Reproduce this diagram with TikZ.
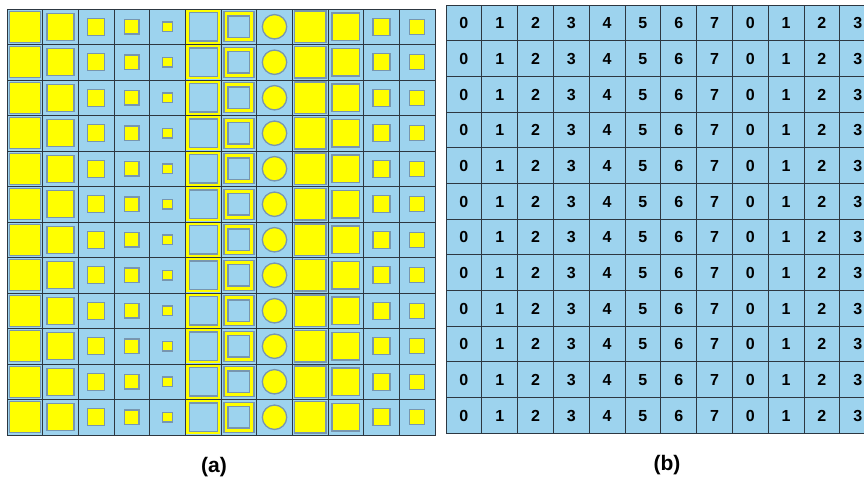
\documentclass[tikz,border=0pt]{standalone}
\usepackage{fontspec}
\setmainfont{Liberation Sans}
\definecolor{cellblue}{RGB}{157,211,238}
\definecolor{gridline}{RGB}{45,55,65}
\definecolor{shapeedge}{RGB}{120,150,175}
\definecolor{yel}{RGB}{255,255,0}
\tikzset{
  cellbox/.style={fill=cellblue, draw=gridline, line width=0.8pt},
  yelcell/.style={fill=yel, draw=none},
  ysq/.style={fill=yel, draw=shapeedge, line width=1.3pt},
  bsq/.style={fill=cellblue, draw=shapeedge, line width=1.3pt},
  numtext/.style={inner sep=0pt, font=\bfseries\fontsize{16}{16}\selectfont},
  captext/.style={inner sep=0pt, font=\bfseries\fontsize{21}{21}\selectfont}
}
\begin{document}
\begin{tikzpicture}[x=1pt,y=-1pt]
\useasboundingbox (0,0) rectangle (864,479);
\fill[white] (0,0) rectangle (864,479);
% ---------------- grid (a)
\def\ax{7}\def\ay{9}\def\acw{35.67}\def\arh{35.5}
\foreach \r in {0,...,11}{
  \foreach \c in {0,...,11}{
    \pgfmathsetmacro\xa{\ax+\c*\acw}
    \pgfmathsetmacro\ya{\ay+\r*\arh}
    \draw[cellbox] (\xa,\ya) rectangle ++(\acw,\arh);
  }
  % column 6: yellow cell with blue inner square
  \pgfmathsetmacro\xa{\ax+5*\acw}
  \pgfmathsetmacro\ya{\ay+\r*\arh}
  \fill[yel] (\xa+0.6,\ya+0.6) rectangle ++(\acw-1.2,\arh-1.2);
  \pgfmathsetmacro\cx{\ax+5.5*\acw}
  \pgfmathsetmacro\cy{\ay+(\r+0.5)*\arh}
  \draw[bsq] (\cx-14,\cy-14.3) rectangle (\cx+14,\cy+14.3);
  % column 7: yellow frame square
  \pgfmathsetmacro\cx{\ax+6.5*\acw}
  \draw[ysq] (\cx-15,\cy-15) rectangle (\cx+15,\cy+15);
  \draw[bsq] (\cx-10.8,\cy-10.8) rectangle (\cx+10.8,\cy+10.8);
  % column 8: circle
  \pgfmathsetmacro\cx{\ax+7.5*\acw}
  \draw[ysq] (\cx,\cy) circle (12.2);
  % square columns
  \foreach \c/\s in {0/31,1/27,2/17,3/14.5,4/9.5,8/31.5,9/27.5,10/17,11/15}{
    \pgfmathsetmacro\cx{\ax+(\c+0.5)*\acw}
    \pgfmathsetmacro\hs{\s/2}
    \draw[ysq] (\cx-\hs,\cy-\hs) rectangle (\cx+\hs,\cy+\hs);
  }
}
% ---------------- grid (b)
\def\bx{446}\def\by{5}\def\bcw{35.8}\def\brh{35.67}
\begin{scope}
\clip (0,0) rectangle (864,479);
\foreach \r in {0,...,11}{
  \foreach \c in {0,...,11}{
    \pgfmathsetmacro\xa{\bx+\c*\bcw}
    \pgfmathsetmacro\ya{\by+\r*\brh}
    \pgfmathtruncatemacro\lab{mod(\c,8)}
    \draw[cellbox] (\xa,\ya) rectangle ++(\bcw,\brh);
    \node[numtext] (b-\r-\c) at (\xa+0.5*\bcw,\ya+0.5*\brh+0.5) {\lab};
  }
}
\end{scope}
% ---------------- captions
\node[captext] (capa) at (214,467) {(a)};
\node[captext] (capb) at (667,465) {(b)};
\end{tikzpicture}
\end{document}
